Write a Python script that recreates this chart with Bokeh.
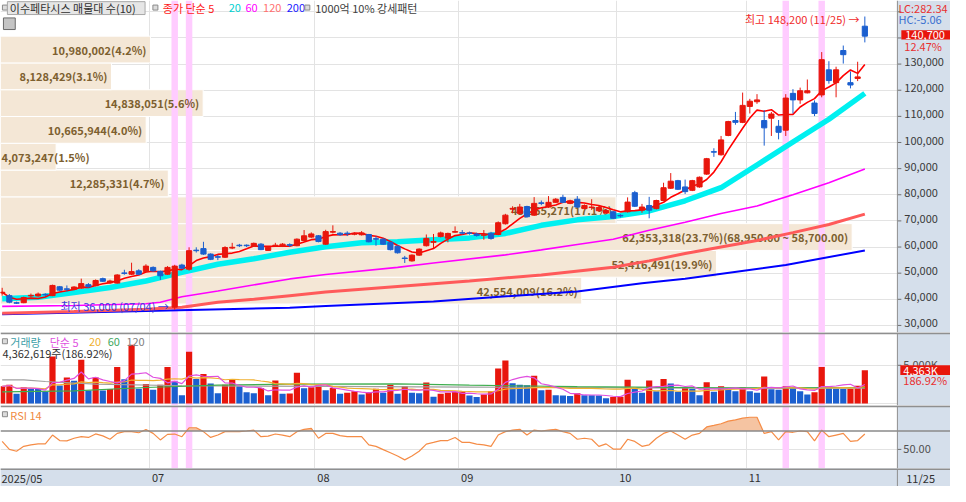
import numpy as np
import pandas as pd
from bokeh.plotting import figure
from bokeh.layouts import column
from bokeh.models import Range1d, FixedTicker, Span
from bokeh.core.properties import value
from bokeh.embed import file_html
from bokeh.resources import INLINE

# ---------------- data (daily, 2025-05-29 .. 2025-11-25) ----------------
OPEN = [42400,41400,38700,38700,41300,41300,41900,41400,44800,44000,
        43800,44300,45600,45200,47900,46300,46200,50100,49600,50900,
        50600,52200,50700,49600,37000,53100,51500,58800,59400,57300,
        56300,56100,59600,60700,60700,60300,61100,58700,60500,60300,
        60900,60500,62500,63800,64300,61100,65700,65300,65300,64900,
        64700,64800,63200,63000,61800,60300,55800,54700,56900,60500,
        61800,64000,63400,65700,65500,65400,65000,64500,65300,64800,
        68900,74500,72900,75500,72200,76900,75300,77100,79000,76700,
        78300,74700,75100,73900,73000,73500,72100,73500,80800,74100,
        75900,74700,77800,82500,85400,83000,81700,83000,87900,96500,
        95300,102700,108400,107700,113800,115600,108400,109300,106200,104700,
        118800,116300,119000,115100,118200,127800,122900,135200,122900,124500,
        144500]
HIGH = [44400,42000,39100,41000,42200,42600,42300,45600,45100,45300,
        45000,47900,46200,47600,48300,47500,49600,51300,54000,51500,
        53400,52600,51000,52700,53200,53600,59900,59900,62000,57600,
        57000,60300,61600,61200,61000,61700,61500,60300,61600,61500,
        61400,63300,66500,65600,64600,66600,68300,65700,66000,65600,
        66100,65000,64200,63400,62100,60600,56600,57200,59500,64800,
        65000,65900,65500,67900,66500,65900,65500,66500,65800,69800,
        72700,75600,76500,75800,79100,77800,79500,78700,80000,78100,
        79500,76300,78300,75500,74400,73800,72600,79000,81500,76500,
        79200,78100,84600,88300,85700,85800,85700,87000,94100,97800,
        102500,108300,111700,119100,116700,118500,112400,111700,108600,118500,
        120400,121000,124100,116100,134600,131100,129000,137100,127200,130900,
        148200]
LOW = [41400,38500,38200,38500,40800,41000,41200,41200,43200,43000,
       43500,44000,44500,45000,46600,46000,46000,49400,49300,49300,
       50300,50500,47400,49300,36000,51500,51000,57900,57000,55000,
       55000,55800,59200,60000,60000,60100,58800,58500,60200,60000,
       60000,60300,62200,63500,61800,60800,65200,64300,64200,64500,
       64400,61800,60500,60800,58700,57500,53900,54400,56600,60200,
       59500,63700,61800,65500,64800,64700,64000,62800,62800,64500,
       68600,72900,72500,71200,71900,76000,75000,76900,76800,76400,
       75000,74400,74200,73600,72700,70700,71300,73200,75300,73100,
       71000,74400,77500,82200,81800,80300,81400,82700,87600,94500,
       95000,102400,106800,107400,111100,114800,98800,102500,101200,102500,
       111100,114800,118800,110100,117300,122500,117300,130200,120700,123500,
       138300]
CLOSE = [42700,38900,38500,40700,41500,42000,41700,45300,43500,43800,
         44700,46000,44800,47200,46900,47000,49300,49900,50600,49600,
         52700,50900,49000,52200,52700,51900,58600,58600,57300,55300,
         56100,59800,59900,60500,60500,61400,59000,59900,60700,61100,
         60700,63000,64300,65000,62100,65900,65900,64700,65100,65100,
         65400,62000,63000,61100,59000,57800,55600,56900,59200,63300,
         62100,65400,65200,65900,65300,65200,64400,64700,63300,69300,
         72200,74800,75300,71600,76700,76700,77100,78300,77100,77700,
         75300,75900,75300,75100,74000,71000,71900,77200,75600,75300,
         74100,77800,82700,85200,82100,81200,85400,86700,93800,96300,
         101000,108000,107700,114200,115800,116300,105600,110900,103900,117000,
         116300,119800,119800,111100,131700,123700,127800,133600,122000,125100,
         140700]
VOLUME = [2250000,2460000,1270000,2120000,1950000,1900000,1530000,6150000,2370000,3390000,
          2970000,5720000,1700000,3390000,1700000,1910000,4790000,3180000,7680000,1950000,
          2540000,1820000,2460000,4790000,2880000,1100000,6780000,3220000,3860000,2630000,
          1360000,2460000,3100000,2250000,1490000,1360000,2040000,1100000,3010000,1270000,
          1320000,4030000,2000000,2120000,2380000,1740000,2035000,1270000,1400000,1610000,
          1190000,1490000,1950000,1400000,2460000,1270000,2250000,1400000,1350000,2750000,
          890000,1270000,1400000,1530000,1560000,1060000,850000,1190000,1610000,4580000,
          5640000,2670000,2460000,2400000,3650000,1740000,1800000,1100000,1050000,1000000,
          1360000,1100000,1080000,1050000,680000,850000,900000,3100000,1950000,1400000,
          3010000,1610000,3220000,2630000,1530000,2160000,1950000,1100000,2800000,1530000,
          2250000,2040000,1610000,2120000,1610000,1400000,3520000,1870000,1800000,2250000,
          2040000,1610000,1190000,1490000,4790000,2040000,1950000,1900000,1950000,2334000,
          4362619]
RSI14 = [58.7,50.0,48.0,53.3,55.0,56.0,56.0,65.6,59.6,59.3,
         62.1,63.8,63.0,66.8,64.7,61.0,67.4,69.3,69.3,68.1,
         71.6,67.4,60.3,66.3,66.7,63.8,73.5,73.5,69.3,63.0,
         65.6,69.3,69.3,69.3,70.0,71.0,63.8,64.5,66.7,65.6,
         63.8,69.3,71.8,72.8,62.1,67.4,67.4,65.0,63.8,63.8,
         63.8,55.0,53.3,49.8,46.3,42.8,38.6,42.8,48.0,55.8,
         57.6,59.6,59.6,63.0,57.6,57.6,55.8,55.0,53.3,65.6,
         69.3,71.0,71.8,65.6,71.0,70.0,71.0,71.8,69.3,67.4,
         61.0,62.1,61.0,53.3,56.0,50.4,50.4,61.0,58.7,53.3,
         55.0,62.1,67.4,70.0,65.6,61.0,65.6,67.4,74.4,76.1,
         77.9,80.7,82.1,83.9,84.9,84.9,67.4,69.3,60.3,69.3,
         68.6,70.0,69.3,59.3,71.0,63.8,65.6,67.4,58.7,59.6,
         66.7]

# moving averages (index, value)
MA20_IDX = [0,5,10,15,20,25,30,35,40,45,50,55,60,65,70,75,80,85,90,95,100,105,110,115,120]
MA20_VAL = [40200,40800,42600,44500,47000,50300,53400,55500,58000,60100,61600,62000,62800,
            63500,65200,68300,70400,71700,73800,77700,82700,91400,100200,108900,118800]
MA60_IDX = [0,10,20,22,25,30,40,45,55,60,70,75,80,85,90,95,100,105,110,115,120]
MA60_VAL = [37300,37600,38300,38900,41000,43200,47800,49500,52200,53900,57000,58900,61000,
            63000,66400,69500,72800,75700,80000,84600,89900]
MA120_IDX = [0,10,20,25,30,35,40,45,55,65,75,85,90,95,100,105,110,115,120]
MA120_VAL = [34700,35300,36200,37000,38900,40000,41400,42800,44900,47000,49300,52300,54700,
             57500,60000,62500,65500,68600,72600]
MA200_IDX = [0,20,40,45,60,80,89,95,109,120]
MA200_VAL = [34300,35500,36800,37400,39200,43000,46100,47900,53100,58700]
VMA60_IDX = [0,10,20,30,40,55,65,80,100,120]
VMA60_VAL = [1530000,1650000,2100000,2400000,2550000,2560000,2400000,2200000,2050000,2100000]
VMA120_IDX = [0,3,6,13,25,45,65,90,120]
VMA120_VAL = [3100000,3100000,2880000,2540000,2330000,2250000,2150000,2060000,2000000]

MONTH_LABELS = ["2025/05", "07", "08", "09", "10", "11"]
MONTH_FIRST_IDX = [0, 21, 44, 64, 86, 104]
LAST_DATE = "11/25"
HIGH_DATE = "11/25"
LOW_DATE = "07/04"
SIGNAL_IDX = [24, 26, 109, 114]

PROFILE_LOW = [38200, 48450, 58700, 68950, 79200, 89450, 99700, 109950, 120200, 130450]
PROFILE_STEP = 10250
PROFILE_VOL = [42554009, 52416491, 62353318, 45065271, 12285331, 4073247, 10665944,
               14838051, 8128429, 10980002]

LC_TEXT = "LC:282.34"
HC_TEXT = "HC:-5.06"

# ---------------- styling / geometry ----------------
FONT = "Noto Sans CJK KR"
RED = "#e8160c"
BLUE = "#1b5fcf"
AXIS_BG = "#d5dfeb"
PINK = "#ffccff"
BAND = "#f4e7d6"
BAND_TXT = "#7d5f2f"
GRID = "#e3e3e3"
SEP = "#8f8f8f"

W = 950
H_PRICE, H_VOL, H_RSI, H_AX = 332, 73, 63, 18

def px2i(px):
    return (px - 1.7) / 7.31

def py2p(py):
    return 30000 + (335.7 - py) / 0.0027

def py2v(py):
    return (416 - py) / 7.86 * 1e6

def py2r(py):
    return 50 + (463.3 - py) / 0.95

X_START, X_END = px2i(0), px2i(966)
X_AXIS = px2i(912)
PROFILE_PX = 866.0
PROFILE_SPAN = px2i(PROFILE_PX) - X_START

N = len(CLOSE)
idx = np.arange(N)
O = np.array(OPEN, float); H = np.array(HIGH, float)
L = np.array(LOW, float); C = np.array(CLOSE, float)
V = np.array(VOLUME, float)
R = np.array(RSI14, float)

xr = Range1d(X_START, X_END)
month_grid = [i - 0.5 for i in MONTH_FIRST_IDX[1:]]


def make_fig(h, yr, bg="white"):
    f = figure(width=W, height=h, x_range=xr, y_range=yr, output_backend="svg",
               toolbar_location=None, x_axis_location=None, y_axis_location=None,
               min_border=0)
    f.outline_line_color = None
    f.background_fill_color = bg
    f.border_fill_color = bg
    f.xgrid.ticker = FixedTicker(ticks=month_grid)
    f.xgrid.grid_line_color = GRID
    f.ygrid.grid_line_color = GRID
    return f


def txt(f, px, y, s, color, size="11px", align="left", style="normal", xoff=0):
    f.text(x=[px2i(px)], y=[y], text=[s], text_color=color, text_font=value(FONT),
           text_font_size=size, text_align=align, text_baseline="middle",
           text_font_style=style, x_offset=xoff)


def axis_area(f, yr):
    f.quad(left=[X_AXIS], right=[X_END], bottom=[yr.start], top=[yr.end],
           fill_color=AXIS_BG, line_color=None)
    f.add_layout(Span(location=X_AXIS, dimension="height", line_color=SEP, line_width=1))


def bullet(f, px, y):
    f.scatter(x=[px2i(px)], y=[y], marker="square", size=5,
              fill_color="#dcdcdc", line_color="#8a8a8a")


def pink(f, yr):
    f.vbar(x=SIGNAL_IDX, width=0.9, bottom=yr.start, top=yr.end,
           fill_color=PINK, line_color=None)

# ---------------- price panel ----------------
pyr = Range1d(py2p(343), py2p(0))
p = make_fig(H_PRICE, pyr)
p.ygrid.ticker = FixedTicker(ticks=list(range(30000, 160001, 10000)))

# volume profile (매물대)
prof_total = sum(PROFILE_VOL)
prof_max = max(PROFILE_VOL)
prof_right = [X_START + PROFILE_SPAN * v / prof_max for v in PROFILE_VOL]
p.quad(left=[X_START] * len(PROFILE_LOW), right=prof_right,
       bottom=PROFILE_LOW, top=[lo + PROFILE_STEP for lo in PROFILE_LOW],
       fill_color=BAND, line_color="white", line_width=1)
pink(p, pyr)
for lo, v, rx in zip(PROFILE_LOW, PROFILE_VOL, prof_right):
    s = f"{v:,}({v / prof_total * 100:.1f}%)"
    if v == prof_max:
        s += f"({lo + PROFILE_STEP:,.2f} ~ {lo:,.2f})"
    right_px = PROFILE_PX * v / prof_max
    yc = lo + PROFILE_STEP / 2
    if right_px - 6 - 5.9 * len(s) < 0:
        p.text(x=[X_START], y=[yc], text=[s], text_color=BAND_TXT, text_font=value(FONT),
               text_font_size="11px", text_font_style="bold", text_align="left",
               text_baseline="middle", x_offset=1)
    else:
        p.text(x=[rx], y=[yc], text=[s], text_color=BAND_TXT, text_font=value(FONT),
               text_font_size="11px", text_font_style="bold", text_align="right",
               text_baseline="middle", x_offset=-4)

# moving averages
p.line(MA200_IDX, MA200_VAL, line_color="#0000ff", line_width=2)
p.line(MA120_IDX, MA120_VAL, line_color="#ff5a5a", line_width=3)
p.line(MA60_IDX, MA60_VAL, line_color="#ff00ff", line_width=1.6)
p.line(MA20_IDX, MA20_VAL, line_color="#00f0f0", line_width=5.5, line_join="round")
ma5 = pd.Series(C).rolling(5, min_periods=1).mean().to_numpy()
p.line(idx, ma5, line_color="#ff0000", line_width=1.6)

# candles
ccol = np.where(C >= O, RED, BLUE)
p.segment(x0=idx, y0=L, x1=idx, y1=H, line_color=ccol, line_width=1)
p.vbar(x=idx, width=0.72, top=np.maximum(O, C), bottom=np.minimum(O, C),
       fill_color=ccol, line_color=ccol, line_width=1)

# legend row
LEG_Y = py2p(7.8)
bullet(p, 4.5, py2p(7.3))
p.quad(left=[px2i(7)], right=[px2i(147)], bottom=[py2p(14.5)], top=[py2p(1.2)],
       fill_color="#e6e6e6", line_color="#a8a8a8")
txt(p, 9.5, LEG_Y, "이수페타시스 매물대 수(10)", "#303030")
bullet(p, 157.5, py2p(7.3))
txt(p, 165, LEG_Y, "종가 단순 5", "#ff1a1a")
txt(p, 232, LEG_Y, "20", "#00d0d0")
txt(p, 249, LEG_Y, "60", "#ff00ff")
txt(p, 267, LEG_Y, "120", "#ff7070")
txt(p, 291, LEG_Y, "200", "#2020ff")
bullet(p, 312, py2p(7.3))
txt(p, 320, LEG_Y, "1000억 10% 강세패턴", "#404040")
p.quad(left=[px2i(3)], right=[px2i(15)], bottom=[py2p(30)], top=[py2p(18)],
       fill_color="#c4c4c4", line_color="#6a6a6a")

# high / low markers
hi_i = int(np.argmax(H)); lo_i = int(np.argmin(L))
txt(p, 757, py2p(19.5), f"최고 {int(H[hi_i]):,} ({HIGH_DATE}) →", "#f02a2a")
txt(p, 61, py2p(315.5), f"최저 {int(L[lo_i]):,} ({LOW_DATE}) →", "#3c3cdc")

# right axis
axis_area(p, pyr)
ticks = list(range(30000, 160001, 10000))
p.segment(x0=[X_AXIS] * len(ticks), y0=ticks, x1=[px2i(916)] * len(ticks), y1=ticks,
          line_color="#707070", line_width=1)
lab_ticks = list(range(30000, 130001, 10000))
p.text(x=[px2i(919)] * len(lab_ticks), y=[t + 2 / 0.0027 for t in lab_ticks],
       text=[f"{t:,}" for t in lab_ticks], text_color="#3a3a3a", text_font=value(FONT),
       text_font_size="11px", text_baseline="middle")
last = C[-1]
chg = (C[-1] / C[-2] - 1) * 100
p.quad(left=[px2i(916)], right=[X_END], bottom=[last + 480 - 1780], top=[last + 480 + 1780],
       fill_color=RED, line_color=None)
txt(p, 920, last + 480, f"{int(last):,}", "white")
txt(p, 919, py2p(47), f"{chg:.2f}%", "#e83030")
txt(p, 913, py2p(7.5), LC_TEXT, "#e83030")
txt(p, 913, py2p(19), HC_TEXT, "#3a70d0")

# ---------------- volume panel ----------------
vyr = Range1d(py2v(418), py2v(343))
v = make_fig(H_VOL, vyr)
v.ygrid.ticker = FixedTicker(ticks=[0, 5000000])
pink(v, vyr)
prev = np.concatenate([[0], V[:-1]])
vcol = np.where(V > prev, RED, BLUE)
v.vbar(x=idx, width=0.86, top=V, bottom=0, fill_color=vcol, line_color=None)
vma5 = pd.Series(V).rolling(5, min_periods=1).mean().to_numpy()
vma20 = pd.Series(V).rolling(20, min_periods=1).mean().to_numpy()
v.line(VMA120_IDX, VMA120_VAL, line_color="#a0a0a0", line_width=1.2)
v.line(VMA60_IDX, VMA60_VAL, line_color="#3fae4f", line_width=1.2)
v.line(idx, vma20, line_color="#f0b030", line_width=1.2)
v.line(idx, vma5, line_color="#e050e0", line_width=1.2)
v.add_layout(Span(location=py2v(343.8), dimension="width", line_color=SEP, line_width=2))
bullet(v, 4.5, py2v(352))
txt(v, 10, py2v(352.5), "거래량", "#3ca0a8")
txt(v, 50, py2v(352.5), "단순 5", "#e050e0")
txt(v, 90, py2v(352.5), "20", "#f0b030")
txt(v, 109, py2v(352.5), "60", "#40a860")
txt(v, 128, py2v(352.5), "120", "#808080")
vpct = V[-1] / V[-2] * 100
txt(v, 2, py2v(364), f"{int(V[-1]):,}주({vpct:.2f}%)", "#303030")
axis_area(v, vyr)
v.segment(x0=[X_AXIS], y0=[5000000], x1=[px2i(916)], y1=[5000000], line_color="#707070")
txt(v, 918, py2v(375.5), "5,000K", "#505050")
v.quad(left=[px2i(915)], right=[X_END], bottom=[V[-1] - 640000], top=[V[-1] + 640000],
       fill_color=RED, line_color=None)
txt(v, 918, V[-1], f"{V[-1] / 1000:,.0f}K", "white")
txt(v, 918, py2v(391.5), f"{vpct:.2f}%", "#e83030")

# ---------------- RSI panel ----------------
ryr = Range1d(py2r(483), py2r(418))
r = make_fig(H_RSI, ryr)
r.ygrid.ticker = FixedTicker(ticks=[50])
pink(r, ryr)
fx, fy = [], []
for k in range(N):
    if k > 0:
        a, b = R[k - 1], R[k]
        if (a - 70) * (b - 70) < 0:
            t = (70 - a) / (b - a)
            fx.append(k - 1 + t); fy.append(70.0)
    fx.append(k); fy.append(max(R[k], 70.0))
r.varea(x=fx, y1=[70.0] * len(fx), y2=fy, fill_color="#f5c4a2")
r.add_layout(Span(location=70, dimension="width", line_color="#8a8a8a", line_width=1.5))
r.line(idx, R, line_color="#f58c46", line_width=1.2)
r.add_layout(Span(location=py2r(418.8), dimension="width", line_color=SEP, line_width=2))
bullet(r, 4.5, py2r(427))
txt(r, 10, py2r(427.5), "RSI 14", "#f08a40")
axis_area(r, ryr)
r.segment(x0=[X_AXIS], y0=[50], x1=[px2i(916)], y1=[50], line_color="#707070")
txt(r, 918, py2r(462.7), "50.00", "#505050")

# ---------------- date band ----------------
b = make_fig(H_AX, Range1d(0, 1), bg=AXIS_BG)
b.xgrid.grid_line_color = None
b.ygrid.grid_line_color = None
b.add_layout(Span(location=0.97, dimension="width", line_color=SEP, line_width=2))
b.add_layout(Span(location=X_AXIS, dimension="height", line_color=SEP, line_width=1))
labels = MONTH_LABELS + [LAST_DATE]
lefts = [X_START] + [i - 0.5 + 0.2 for i in MONTH_FIRST_IDX[1:]] + [px2i(920)]
b.text(x=lefts, y=[0.45] * len(labels), text=labels, text_color="#303030",
       text_font=value(FONT), text_font_size="11px", text_baseline="middle",
       text_align="left", x_offset=1)

layout = column(p, v, r, b, spacing=0)
open("out.html", "w").write(file_html(layout, INLINE, "이수페타시스"))
